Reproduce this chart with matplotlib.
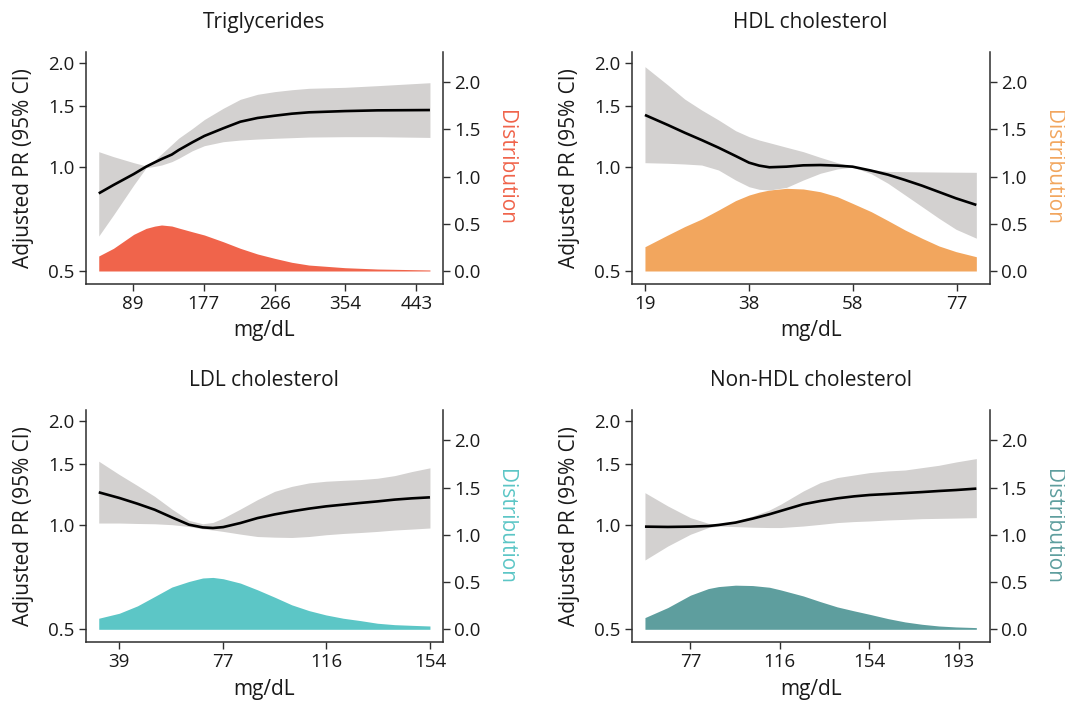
import matplotlib
matplotlib.use("Agg")
import matplotlib.pyplot as plt
from matplotlib.ticker import FixedLocator, FixedFormatter, NullLocator

plt.rcParams['font.family'] = ['Open Sans', 'DejaVu Sans']

# ---------------- data (x in mmol/L, tick labels in mg/dL) ----------------
tg_x = [0.515, 0.723, 1.009, 1.184, 1.305, 1.402, 1.547, 1.644, 1.837, 2.007, 2.273,
        2.515, 2.758, 3.0, 3.242, 3.484, 3.993, 4.453, 5.194]
tg_pr = [0.838, 0.886, 0.953, 1.001, 1.03, 1.053, 1.085, 1.118, 1.177, 1.228, 1.292,
         1.35, 1.384, 1.405, 1.424, 1.437, 1.449, 1.456, 1.459]
tg_hi = [1.106, 1.07, 1.028, 1.006, 1.045, 1.09, 1.16, 1.21, 1.29, 1.37, 1.476,
         1.567, 1.62, 1.649, 1.67, 1.686, 1.697, 1.716, 1.75]
tg_lo = [0.631, 0.726, 0.886, 0.994, 1.003, 1.012, 1.035, 1.058, 1.113, 1.151, 1.182,
         1.195, 1.203, 1.209, 1.214, 1.219, 1.222, 1.222, 1.216]
tg_dens = [0.159, 0.24, 0.388, 0.451, 0.475, 0.487, 0.476, 0.455, 0.415, 0.381, 0.31,
           0.24, 0.18, 0.134, 0.092, 0.063, 0.035, 0.021, 0.011]
tg_ticks = [1, 2, 3, 4, 5]
tg_labels = ["89", "177", "266", "354", "443"]

hdl_x = [0.5, 0.61, 0.691, 0.773, 0.854, 0.936, 1.001, 1.05, 1.099, 1.181, 1.262,
         1.344, 1.426, 1.499, 1.589, 1.67, 1.752, 1.834, 1.915, 1.997, 2.095]
hdl_pr = [1.412, 1.321, 1.255, 1.195, 1.136, 1.075, 1.028, 1.008, 0.997, 1.001, 1.010,
          1.012, 1.008, 1.001, 0.975, 0.949, 0.916, 0.882, 0.846, 0.811, 0.776]
hdl_hi = [1.947, 1.724, 1.57, 1.459, 1.366, 1.272, 1.222, 1.195, 1.174, 1.139, 1.106,
          1.065, 1.028, 1.003, 0.982, 0.97, 0.968, 0.967, 0.966, 0.965, 0.964]
hdl_lo = [1.028, 1.024, 1.019, 1.012, 0.979, 0.916, 0.876, 0.861, 0.857, 0.872, 0.916,
          0.958, 0.986, 0.999, 0.955, 0.896, 0.829, 0.767, 0.71, 0.66, 0.622]
hdl_dens = [0.257, 0.381, 0.47, 0.55, 0.645, 0.745, 0.804, 0.835, 0.857, 0.875, 0.868,
            0.839, 0.786, 0.716, 0.628, 0.533, 0.434, 0.346, 0.265, 0.205, 0.151]
hdl_ticks = [0.5, 1.0, 1.5, 2.0]
hdl_labels = ["19", "38", "58", "77"]

ldl_x = [0.801, 1.0, 1.175, 1.341, 1.507, 1.672, 1.805, 1.904, 2.003, 2.169, 2.334,
         2.5, 2.665, 2.831, 2.996, 3.162, 3.328, 3.493, 3.659, 3.824, 4.0]
ldl_pr = [1.244, 1.198, 1.153, 1.108, 1.053, 1.003, 0.985, 0.981, 0.987, 1.014, 1.048,
          1.074, 1.096, 1.116, 1.133, 1.146, 1.159, 1.171, 1.185, 1.195, 1.203]
ldl_hi = [1.53, 1.40, 1.301, 1.211, 1.113, 1.032, 1.009, 1.018, 1.048, 1.113, 1.185,
          1.252, 1.294, 1.324, 1.339, 1.347, 1.354, 1.366, 1.39, 1.428, 1.464]
ldl_lo = [1.014, 1.014, 1.011, 1.009, 1.003, 0.991, 0.976, 0.968, 0.959, 0.942, 0.927,
          0.923, 0.921, 0.927, 0.938, 0.946, 0.952, 0.959, 0.968, 0.974, 0.981]
ldl_dens = [0.117, 0.17, 0.248, 0.347, 0.447, 0.506, 0.543, 0.549, 0.535, 0.489, 0.418,
            0.34, 0.259, 0.198, 0.152, 0.117, 0.092, 0.064, 0.049, 0.042, 0.035]
ldl_ticks = [1, 2, 3, 4]
ldl_labels = ["39", "77", "116", "154"]

nhdl_x = [1.492, 1.747, 2.0, 2.201, 2.315, 2.504, 2.694, 2.884, 3.009, 3.262, 3.452,
          3.642, 3.831, 4.002, 4.21, 4.4, 4.59, 4.779, 4.969, 5.197]
nhdl_pr = [0.990, 0.988, 0.990, 0.994, 1.001, 1.017, 1.044, 1.075, 1.099, 1.149, 1.174,
           1.195, 1.211, 1.222, 1.230, 1.238, 1.246, 1.255, 1.263, 1.275]
nhdl_hi = [1.241, 1.136, 1.051, 1.012, 1.005, 1.028, 1.062, 1.106, 1.149, 1.255, 1.327,
           1.372, 1.396, 1.418, 1.434, 1.443, 1.466, 1.489, 1.522, 1.557]
nhdl_lo = [0.793, 0.870, 0.941, 0.984, 0.994, 0.990, 0.986, 0.984, 0.984, 0.994, 1.005,
           1.017, 1.024, 1.028, 1.035, 1.039, 1.044, 1.046, 1.048, 1.051]
nhdl_dens = [0.124, 0.23, 0.361, 0.431, 0.452, 0.467, 0.463, 0.445, 0.417, 0.353, 0.293,
             0.237, 0.195, 0.159, 0.113, 0.078, 0.053, 0.035, 0.025, 0.018]
nhdl_ticks = [2, 3, 4, 5]
nhdl_labels = ["77", "116", "154", "193"]

titles = ["Triglycerides", "HDL cholesterol", "LDL cholesterol", "Non-HDL cholesterol"]
colors = ["#F0644B", "#F2A65E", "#5CC6C6", "#5E9E9E"]
pr_ticks = [0.5, 1.0, 1.5, 2.0]
pr_labels = ["0.5", "1.0", "1.5", "2.0"]
dist_ticks = [0.0, 0.5, 1.0, 1.5, 2.0]
dist_labels = ["0.0", "0.5", "1.0", "1.5", "2.0"]

series = [
    (tg_x, tg_pr, tg_lo, tg_hi, tg_dens, tg_ticks, tg_labels),
    (hdl_x, hdl_pr, hdl_lo, hdl_hi, hdl_dens, hdl_ticks, hdl_labels),
    (ldl_x, ldl_pr, ldl_lo, ldl_hi, ldl_dens, ldl_ticks, ldl_labels),
    (nhdl_x, nhdl_pr, nhdl_lo, nhdl_hi, nhdl_dens, nhdl_ticks, nhdl_labels),
]

# ---------------- layout ----------------
W, H = 1065, 702
fig = plt.figure(figsize=(W / 100, H / 100), dpi=100)
boxes = [(85.5, 51.7, 443.2, 284.0), (631.7, 51.7, 989.6, 284.0),
         (85.5, 410.0, 443.2, 642.3), (631.7, 410.0, 989.6, 642.3)]
band_color = "#D3D1D0"
ink = "#1a1a1a"
spine_c = "#2e2e2e"

for i, (x, pr, lo, hi, dens, xt, xl) in enumerate(series):
    l, t, r, b = boxes[i]
    ax = fig.add_axes([l / W, 1 - b / H, (r - l) / W, (b - t) / H])
    ax2 = ax.twinx()
    ax.set_zorder(ax2.get_zorder() + 1)
    ax.patch.set_visible(False)

    ax2.fill_between(x, 0, dens, color=colors[i], lw=0)
    ax.fill_between(x, lo, hi, color=band_color, lw=0)
    ax.plot(x, pr, color="black", lw=1.9, solid_capstyle="butt",
            solid_joinstyle="round")

    rng = max(x) - min(x)
    ax.set_xlim(min(x) - 0.04 * rng, max(x) + 0.04 * rng)
    ax.set_yscale("log")
    ax.set_ylim(0.4586, 2.151)
    ax2.set_ylim(-0.1376, 2.321)

    ax.yaxis.set_major_locator(FixedLocator(pr_ticks))
    ax.yaxis.set_major_formatter(FixedFormatter(pr_labels))
    ax.yaxis.set_minor_locator(NullLocator())
    ax.set_xticks(xt)
    ax.set_xticklabels(xl)
    ax2.set_yticks(dist_ticks)
    ax2.set_yticklabels(dist_labels)

    for a in (ax, ax2):
        for s in a.spines.values():
            s.set_visible(False)
        a.tick_params(direction="out", length=4.8, width=1.0, color=spine_c,
                      labelsize=13.5, labelcolor=ink, pad=3.2)
    ax.spines["left"].set_visible(True)
    ax.spines["bottom"].set_visible(True)
    ax2.spines["right"].set_visible(True)
    for s in (ax.spines["left"], ax.spines["bottom"], ax2.spines["right"]):
        s.set_linewidth(1.1)
        s.set_color(spine_c)

    cx = (l + r) / 2 / W
    cy = 1 - (t + b) / 2 / H
    fig.text(cx, 1 - (t - 24) / H, titles[i], ha="center", va="baseline",
             fontsize=15, color=ink)
    fig.text(cx, 1 - (b + 52.5) / H, "mg/dL", ha="center", va="baseline",
             fontsize=15, color=ink)
    fig.text((l - 62) / W, cy, "Adjusted PR (95% CI)", rotation=90,
             ha="center", va="center", fontsize=15, color=ink)
    fig.text((r + 62.5) / W, cy, "Distribution", rotation=270,
             ha="center", va="center", fontsize=15, color=colors[i])

fig.savefig("out.png", dpi=100, facecolor="white")
